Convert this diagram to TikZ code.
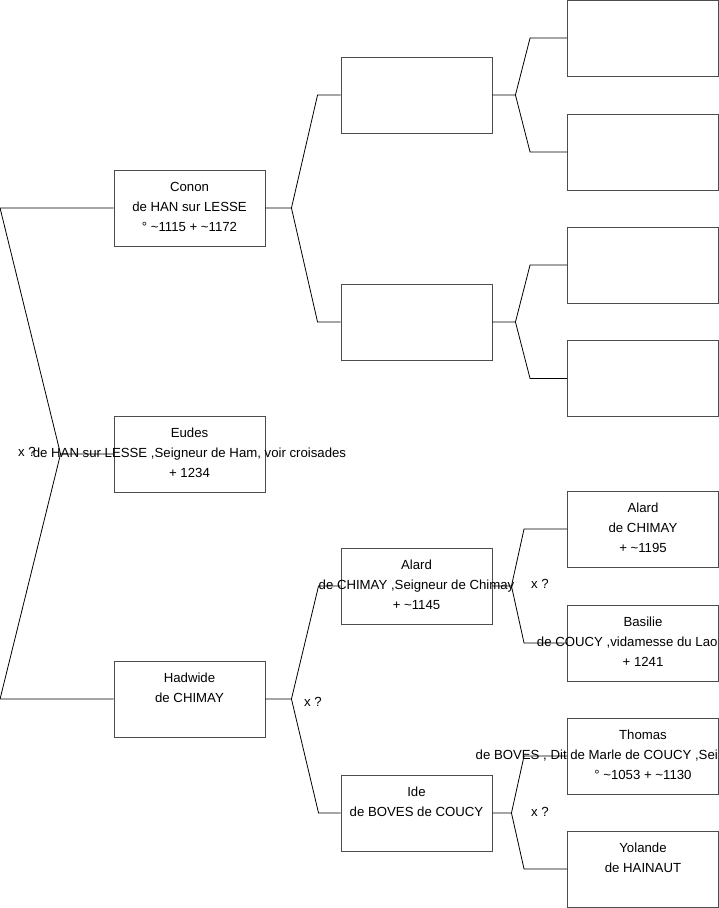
\documentclass[tikz,border=0pt]{standalone}
\usepackage{fontspec}
\setmainfont{Liberation Sans}
\usepackage{tikz}
\usetikzlibrary{calc}
\newcommand{\ca}{\textasciitilde}
\tikzset{
  pbox/.style={draw=black!70,line width=0.9pt,minimum width=151pt,
    minimum height=76pt,inner sep=0pt},
  ptext/.style={align=center,inner sep=0pt,font=\fontsize{13.2}{20}\selectfont},
  pmark/.style={anchor=west,inner sep=0pt,font=\fontsize{13.2}{20}\selectfont},
  plink/.style={line width=0.8pt,line join=miter},
}

\begin{document}
\begin{tikzpicture}[x=1pt,y=-1pt]
\useasboundingbox (0,0) rectangle (719,908);
\clip (0,0) rectangle (719,908);
% first column
\node[pbox] (conon) at (189.5,208) {};
\node[pbox] (eudes) at (189.5,454) {};
\node[pbox] (hadwide) at (189.5,699) {};
% second column
\node[pbox] (p1) at (416.5,95) {};
\node[pbox] (p2) at (416.5,322) {};
\node[pbox] (alard) at (416.5,586) {};
\node[pbox] (ide) at (416.5,813) {};
% third column
\node[pbox] (gp1) at (643,38) {};
\node[pbox] (gp2) at (643,152) {};
\node[pbox] (gp3) at (643,265) {};
\node[pbox] (gp4) at (643,378.5) {};
\node[pbox] (alardjr) at (643,529) {};
\node[pbox] (basilie) at (643,643) {};
\node[pbox] (thomas) at (643,756) {};
\node[pbox] (yolande) at (643,869) {};
% texts (they may run past the boxes)
\node[ptext] (conon-t) at ([yshift=1pt]conon) {Conon\\de HAN sur LESSE\\° \ca1115 + \ca1172};
\node[ptext] (eudes-t) at ([yshift=1pt]eudes) {Eudes\\de HAN sur LESSE ,Seigneur de Ham, voir croisades\\+ 1234};
\node[ptext] (hadwide-t) at ([yshift=1pt]hadwide) {Hadwide\\de CHIMAY\\\mbox{}};
\node[ptext] (alard-t) at ([yshift=1pt]alard) {Alard\\de CHIMAY ,Seigneur de Chimay\\+ \ca1145};
\node[ptext] (ide-t) at ([yshift=1pt]ide) {Ide\\de BOVES de COUCY\\\mbox{}};
\node[ptext] (alardjr-t) at ([yshift=1pt]alardjr) {Alard\\de CHIMAY\\+ \ca1195};
% cut at the page edge
\node[ptext] (basilie-t) at ([yshift=1pt]basilie) {Basilie\\de COUCY ,vidamesse du Lao\hphantom{nnois}\\+ 1241};
\node[ptext] (thomas-t) at ([yshift=1pt]thomas) {Thomas\\de BOVES , Dit de Marle de COUCY ,Sei\hphantom{gneur de Boves}\\° \ca1053 + \ca1130};
\node[ptext] (yolande-t) at ([yshift=1pt]yolande) {Yolande\\de HAINAUT\\\mbox{}};
% forks
\draw[plink] (eudes.west) -- ++(-53,0) coordinate (k0) -- ($(conon.west)+(-113.5,0)$) -- (conon.west);
\draw[plink] (k0) -- ($(hadwide.west)+(-113.5,0)$) -- (hadwide.west);
\draw[plink] (conon.east) -- ++(26,0) coordinate (k1) -- ($(p1.west)+(-23,0)$) -- (p1.west);
\draw[plink] (k1) -- ($(p2.west)+(-23,0)$) -- (p2.west);
\draw[plink] (hadwide.east) -- ++(26,0) coordinate (k2) -- ($(alard.west)+(-22,0)$) -- (alard.west);
\draw[plink] (k2) -- ($(ide.west)+(-22,0)$) -- (ide.west);
\draw[plink] (p1.east) -- ++(23,0) coordinate (k3) -- ($(gp1.west)+(-37,0)$) -- (gp1.west);
\draw[plink] (k3) -- ($(gp2.west)+(-37,0)$) -- (gp2.west);
\draw[plink] (p2.east) -- ++(23,0) coordinate (k4) -- ($(gp3.west)+(-37,0)$) -- (gp3.west);
\draw[plink] (k4) -- ($(gp4.west)+(-37,0)$) -- (gp4.west);
\draw[plink] (alard.east) -- ++(19,0) coordinate (k5) -- ($(alardjr.west)+(-43,0)$) -- (alardjr.west);
\draw[plink] (k5) -- ($(basilie.west)+(-43,0)$) -- (basilie.west);
\draw[plink] (ide.east) -- ++(19,0) coordinate (k6) -- ($(thomas.west)+(-43,0)$) -- (thomas.west);
\draw[plink] (k6) -- ($(yolande.west)+(-43,0)$) -- (yolande.west);
% marriages
\node[pmark] (x0) at (18,452) {x ?};
\node[pmark] (x1) at (304,702) {x ?};
\node[pmark] (x2) at (531,584) {x ?};
\node[pmark] (x3) at (531,812) {x ?};
\end{tikzpicture}
\end{document}
